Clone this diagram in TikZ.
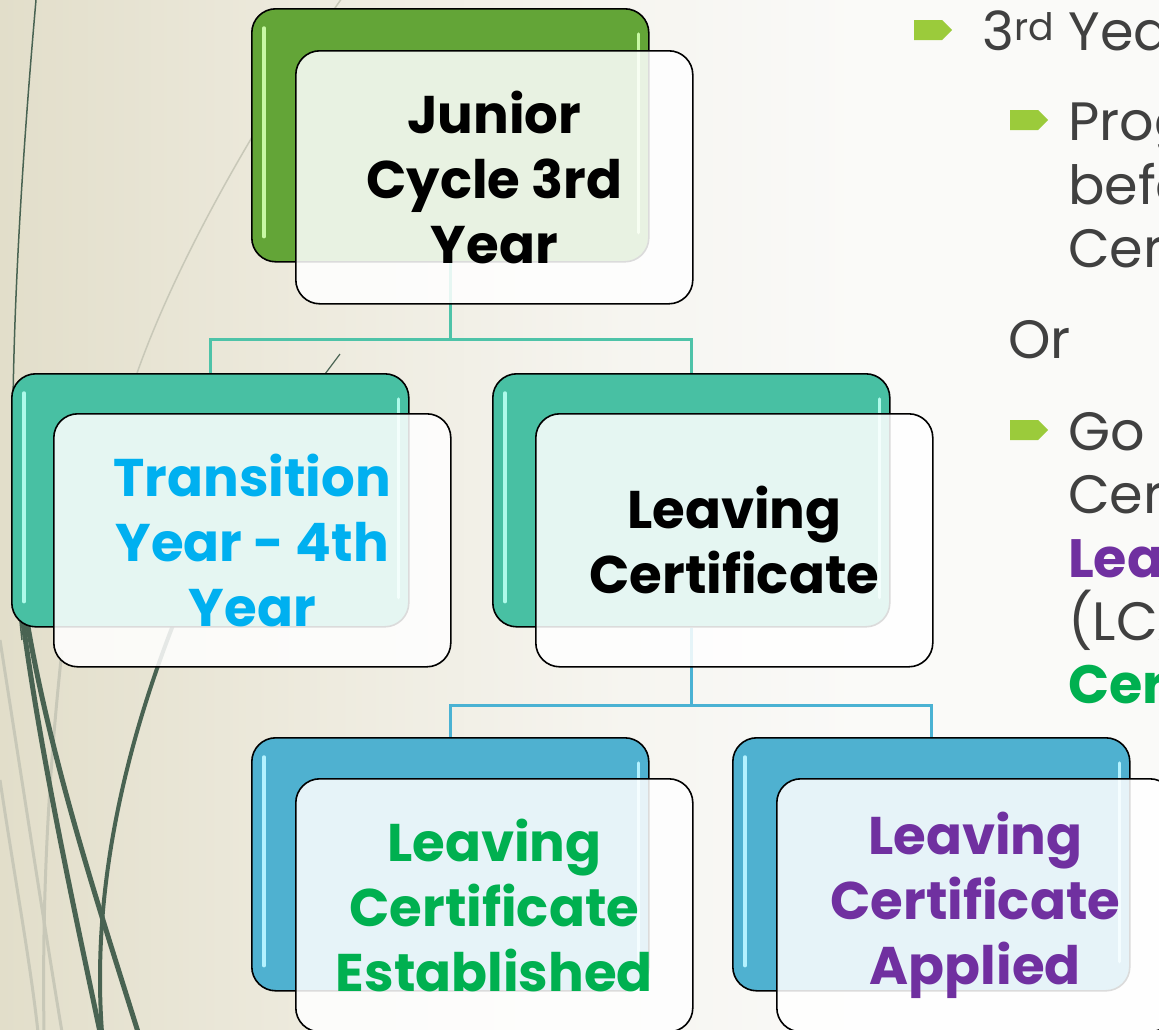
\documentclass[tikz,border=0pt]{standalone}
\usepackage{fontspec}
\setmainfont{Poppins}
\usetikzlibrary{positioning,shapes.symbols}

\definecolor{bgleft}{RGB}{226,222,202}
\definecolor{bgmid}{RGB}{237,234,221}
\definecolor{bglight}{RGB}{246,245,240}
\definecolor{bgright}{RGB}{250,250,248}
\definecolor{wispdark}{RGB}{73,99,82}
\definecolor{wisplight}{RGB}{200,200,184}
\definecolor{jcgreen}{RGB}{99,165,55}
\definecolor{tyteal}{RGB}{72,192,163}
\definecolor{lcblue}{RGB}{79,177,208}
\definecolor{hlgreen}{RGB}{200,248,165}
\definecolor{hlteal}{RGB}{175,250,234}
\definecolor{hlblue}{RGB}{180,242,255}
\definecolor{linkteal}{RGB}{78,195,168}
\definecolor{linkblue}{RGB}{74,178,211}
\definecolor{tytext}{RGB}{0,176,240}
\definecolor{lcegreen}{RGB}{0,176,80}
\definecolor{lcapurple}{RGB}{112,48,160}
\definecolor{bodygray}{RGB}{64,64,64}
\definecolor{bulletgreen}{RGB}{155,203,59}

\pgfdeclarehorizontalshading{wispbg}{100bp}{color(0bp)=(bgleft); color(25bp)=(bgleft); color(38bp)=(bgmid); color(52bp)=(bglight); color(62bp)=(bgright); color(100bp)=(bgright)}

\newcommand\boxfont{\fontsize{53}{65}\selectfont\bfseries}
\newcommand\bodyfont{\fontsize{54}{63}\selectfont}

\begin{document}
\begin{tikzpicture}[x=1pt, y=-1pt,
  backbox/.style={draw=black, line width=1.6pt, rounded corners=24pt, minimum width=397pt, minimum height=253pt, inner sep=0pt, anchor=north west},
  frontbox/.style={draw=black, line width=1.6pt, rounded corners=24pt, fill=white, fill opacity=0.86, text opacity=1, minimum width=397pt, minimum height=253pt, inner sep=0pt, align=center, font=\boxfont},
  shine/.style={draw=#1, line width=3.5pt, line cap=round},
  link/.style={draw=#1, line width=3pt},
  wisp/.style={draw=wispdark, line width=#1},
  pale/.style={draw=wisplight, line width=#1},
  bullet/.style={shape=signal, signal to=east, signal pointer angle=90, fill=bulletgreen, minimum width=38pt, minimum height=20pt, inner sep=0pt, anchor=west},
  body/.style={anchor=base west, inner sep=0pt, text=bodygray, font=\bodyfont}]
\useasboundingbox (0,0) rectangle (1159,1029);
\clip (0,0) rectangle (1159,1029);
\shade[shading=wispbg] (0,0) rectangle (1159,1029);
\draw[wisp=1.5pt] (36,0) .. controls (14,250) and (4,480) .. (22,640);
\draw[pale=1.5pt] (342,-2) .. controls (270,100) and (180,250) .. (136,376);
\draw[wisp=1.2pt] (340,354) -- (322,378);
\draw[pale=3pt] (0,640) .. controls (25,800) and (45,930) .. (62,1032);
\draw[pale=3pt] (62,650) .. controls (48,780) and (42,900) .. (44,1032);
\draw[pale=3pt] (0,780) .. controls (15,880) and (30,960) .. (38,1032);
\draw[wisp=5pt] (22,615) .. controls (40,750) and (70,890) .. (100,1032);
\draw[wisp=5pt] (26,615) .. controls (50,760) and (100,910) .. (138,1032);
\draw[wisp=4pt] (175,620) .. controls (120,760) and (92,900) .. (102,1032);

\node[backbox, fill=jcgreen] (jcb) at (251,8) {};
\node[backbox, fill=tyteal] (tyb) at (11,373) {};
\node[backbox, fill=tyteal] (lcb) at (492,373) {};
\node[backbox, fill=lcblue] (lceb) at (251,737) {};
\node[backbox, fill=lcblue] (lcab) at (732,737) {};

\coordinate (fork1) at ([yshift=-77pt]jcb.south);
\coordinate (fork2) at ([yshift=-78pt]lcb.south);
\draw[link=linkteal] (jcb.south) -- (fork1) (tyb.north) |- (fork1) -| (lcb.north);
\draw[link=linkblue] (lcb.south) -- (fork2) (lceb.north) |- (fork2) -| (lcab.north);

\foreach \b/\c in {jcb/hlgreen, tyb/hlteal, lcb/hlteal, lceb/hlblue, lcab/hlblue} {
  \draw[shine=\c] ([xshift=13pt,yshift=-20pt]\b.north west) -- ([xshift=13pt,yshift=26pt]\b.south west);
  \draw[shine=\c] ([xshift=-11pt,yshift=-26pt]\b.north east) -- ([xshift=-11pt,yshift=30pt]\b.south east);
}

\node[frontbox, below right=42pt and 44pt of jcb.north west] (jcf) {Junior\\Cycle 3rd\\Year};
\node[frontbox, text=tytext, below right=40pt and 42pt of tyb.north west] (tyf) {Transition\\Year - 4th\\Year};
\node[frontbox, below right=40pt and 43pt of lcb.north west] (lcf) {Leaving\\Certificate};
\node[frontbox, text=lcegreen, below right=41pt and 44pt of lceb.north west] (lcef) {Leaving\\Certificate\\Established};
\node[frontbox, text=lcapurple, below right=41pt and 44pt of lcab.north west] (lcaf) {Leaving\\Certificate\\Applied};

\node[bullet] (bul1) at (914,30) {};
\node[body] (yr3) at (982,50) {3\textsuperscript{rd} Yea};
\node[bullet] (bul2) at (1010,120) {};
\node[body] (prog) at (1068,140) {Prog};
\node[body] (befo) at (1068,204) {befo};
\node[body] (cer1) at (1068,267) {Cer};
\node[body] (or) at (1008,358) {Or};
\node[bullet] (bul3) at (1010,430) {};
\node[body] (goon) at (1068,450) {Go};
\node[body] (cer2) at (1068,513) {Cer};
\node[body, text=lcapurple, font=\bodyfont\bfseries] (lea) at (1068,577) {Lea};
\node[body] (lca) at (1068,640) {(LCA};
\node[body, text=lcegreen, font=\bodyfont\bfseries] (cer3) at (1068,703) {Cer};
\end{tikzpicture}
\end{document}
